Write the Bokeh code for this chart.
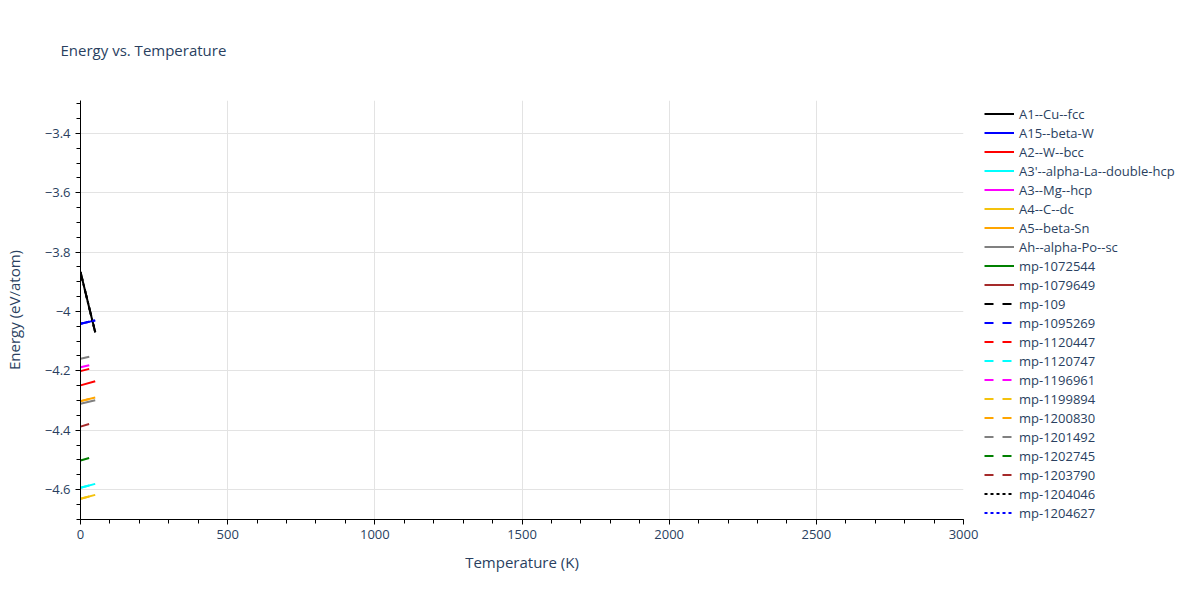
"""Energy vs. temperature for several structures."""
import numpy as np
from bokeh.embed import file_html
from bokeh.models import (
    ColumnDataSource,
    CustomJSTickFormatter,
    Legend,
    LegendItem,
    SingleIntervalTicker,
)
from bokeh.plotting import figure
from bokeh.resources import INLINE

FONT = "Open Sans"
TEXT_COLOR = "#2a3f5f"
NAN = float("nan")

# Series names, colours and dash style, in legend order
names = [
    "A1--Cu--fcc", "A15--beta-W", "A2--W--bcc", "A3'--alpha-La--double-hcp",
    "A3--Mg--hcp", "A4--C--dc", "A5--beta-Sn", "Ah--alpha-Po--sc",
    "mp-1072544", "mp-1079649", "mp-109", "mp-1095269", "mp-1120447",
    "mp-1120747", "mp-1196961", "mp-1199894", "mp-1200830", "mp-1201492",
    "mp-1202745", "mp-1203790", "mp-1204046", "mp-1204627",
]
colors = [
    "black", "blue", "red", "cyan", "magenta", "#f4c20d", "orange", "gray",
    "green", "brown", "black", "blue", "red", "cyan", "magenta", "#f4c20d",
    "orange", "gray", "green", "brown", "black", "blue",
]
dashes = ["solid"] * 10 + ["9 9"] * 10 + ["3 3"] * 2

# Temperatures (K) and energies (eV/atom);
# NaN = series listed in the legend but not visible in the plot
temps = [
    [0, 50], [0, 50], [0, 50], [0, 50], [NAN, NAN], [0, 50], [0, 50],
    [0, 50], [NAN, NAN], [NAN, NAN], [0, 50], [0, 50], [0, 50], [0, 50],
    [0, 50], [0, 50], [0, 50], [0, 50], [0, 50], [0, 50], [0, 50], [0, 50],
]
energies = [
    [-3.867, -4.070],  # A1--Cu--fcc
    [-4.041, -4.030],  # A15--beta-W
    [-4.249, -4.235],  # A2--W--bcc
    [-4.594, -4.581],  # A3'--alpha-La--double-hcp
    [NAN, NAN],        # A3--Mg--hcp
    [-4.631, -4.618],  # A4--C--dc
    [-4.302, -4.290],  # A5--beta-Sn
    [-4.311, -4.299],  # Ah--alpha-Po--sc
    [NAN, NAN],        # mp-1072544
    [NAN, NAN],        # mp-1079649
    [-3.867, -4.070],  # mp-109
    [-4.041, -4.030],  # mp-1095269
    [-4.201, -4.188],  # mp-1120447
    [-4.594, -4.581],  # mp-1120747
    [-4.188, -4.176],  # mp-1196961
    [-4.631, -4.618],  # mp-1199894
    [-4.302, -4.290],  # mp-1200830
    [-4.159, -4.148],  # mp-1201492
    [-4.502, -4.488],  # mp-1202745
    [-4.388, -4.373],  # mp-1203790
    [-3.867, -4.070],  # mp-1204046
    [-4.041, -4.030],  # mp-1204627
]

p = figure(
    frame_width=883,
    frame_height=419,
    x_range=(0, 3000),
    y_range=(-4.701, -3.289),
    output_backend="svg",
    toolbar_location=None,
    min_border_left=77,
    min_border_right=10,
    min_border_top=100,
    min_border_bottom=81,
    background_fill_color="white",
    border_fill_color="white",
    title="Energy vs. Temperature",
)
p.outline_line_color = None
p.title.text_font = FONT
p.title.text_font_size = "15px"
p.title.text_font_style = "normal"
p.title.text_color = TEXT_COLOR
p.title.offset = -20
p.title.vertical_align = "top"
p.title.standoff = 78

items = []
for name, c, d, t, e in zip(names, colors, dashes, temps, energies):
    src = ColumnDataSource(dict(t=np.array(t, dtype=float), e=np.array(e, dtype=float)))
    r = p.line("t", "e", source=src, line_color=c, line_width=2, line_dash=d)
    items.append(LegendItem(label=name, renderers=[r]))

# Axes
p.xaxis.ticker = SingleIntervalTicker(interval=500, num_minor_ticks=5)
p.yaxis.ticker = SingleIntervalTicker(interval=0.2, num_minor_ticks=4)
p.yaxis.formatter = CustomJSTickFormatter(code="""
    const v = Math.round(tick * 100) / 100;
    return (v < 0 ? '\u2212' : '') + Math.abs(v).toString();
""")
for ax in (p.xaxis[0], p.yaxis[0]):
    ax.axis_line_color = "black"
    ax.axis_line_width = 1
    ax.major_tick_line_color = "black"
    ax.minor_tick_line_color = "black"
    ax.major_tick_out = 5
    ax.major_tick_in = 0
    ax.minor_tick_out = 4
    ax.minor_tick_in = 0
    ax.major_label_text_font = FONT
    ax.major_label_text_font_size = "13px"
    ax.major_label_text_color = TEXT_COLOR
    ax.axis_label_text_font = FONT
    ax.axis_label_text_font_size = "15px"
    ax.axis_label_text_font_style = "normal"
    ax.axis_label_text_color = TEXT_COLOR
p.xaxis.axis_label = "Temperature (K)"
p.yaxis.axis_label = "Energy (eV/atom)"
p.xaxis.axis_label_standoff = 10
p.yaxis.axis_label_standoff = 18

p.xgrid.grid_line_color = "#e3e3e3"
p.ygrid.grid_line_color = "#e3e3e3"

legend = Legend(
    items=items,
    location=(21, -3),
    label_text_font=FONT,
    label_text_font_size="13px",
    label_text_color=TEXT_COLOR,
    glyph_width=30,
    glyph_height=19,
    label_height=19,
    label_standoff=5,
    spacing=0,
    padding=0,
    margin=0,
    border_line_color=None,
    background_fill_alpha=0,
)
p.add_layout(legend, "right")

open("out.html", "w").write(file_html(p, INLINE))
